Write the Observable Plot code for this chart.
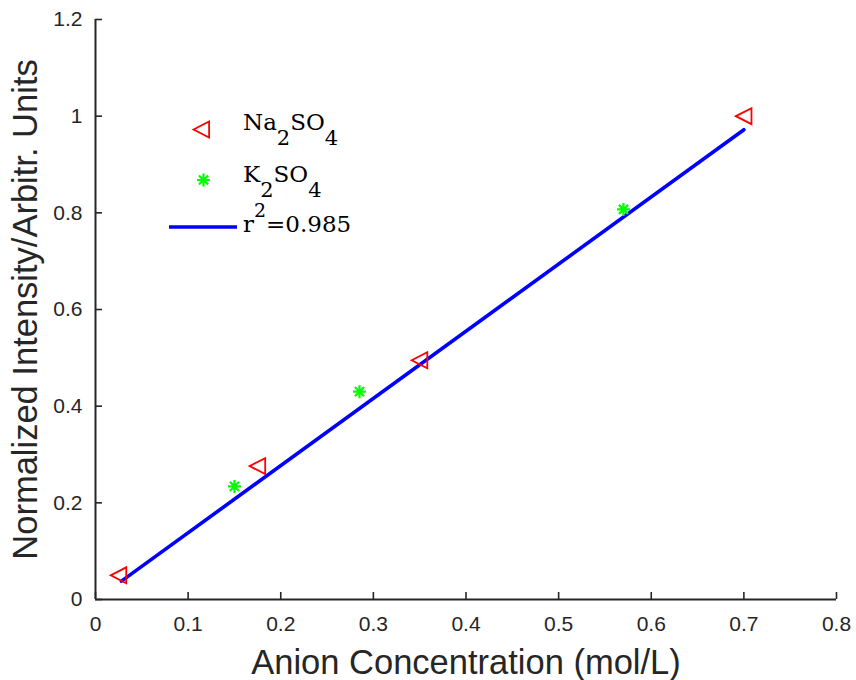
<!DOCTYPE html>
<html>
<head>
<meta charset="utf-8">
<script src="https://cdn.jsdelivr.net/npm/d3@7"></script>
<script src="https://cdn.jsdelivr.net/npm/@observablehq/plot@0.6"></script>
<style>
  html, body { margin: 0; padding: 0; background: #ffffff; }
  #chart { width: 856px; height: 680px; }
</style>
</head>
<body>
<div id="chart"></div>
<script>
// ---- data ----
const naX = [0.025, 0.175, 0.35, 0.70];
const naY = [0.050, 0.276, 0.495, 1.000];
const kX = [0.150, 0.285, 0.570];
const kY = [0.234, 0.430, 0.807];
const fitX = [0.028, 0.700];
const fitY = [0.038, 0.972];
const xTicks = [0, 0.1, 0.2, 0.3, 0.4, 0.5, 0.6, 0.7, 0.8];
const yTicks = [0, 0.2, 0.4, 0.6, 0.8, 1, 1.2];
const xTitle = "Anion Concentration (mol/L)";
const yTitle = "Normalized Intensity/Arbitr. Units";
const legendNames = ["Na2SO4", "K2SO4", "r2=0.985"];

const na = naX.map((x, i) => ({x, y: naY[i]}));
const k = kX.map((x, i) => ({x, y: kY[i]}));
const fit = fitX.map((x, i) => ({x, y: fitY[i]}));

// custom MATLAB-like symbols
const triLeft = {
  draw(ctx, size) {
    const r = Math.sqrt(size / Math.PI);
    ctx.moveTo(-r, 0);
    ctx.lineTo(r * 0.95, -r);
    ctx.lineTo(r * 0.95, r);
    ctx.closePath();
  }
};
const asterisk8 = {
  draw(ctx, size) {
    const r = Math.sqrt(size / Math.PI);
    const d = r * Math.SQRT1_2;
    ctx.moveTo(-r, 0); ctx.lineTo(r, 0);
    ctx.moveTo(0, -r); ctx.lineTo(0, r);
    ctx.moveTo(-d, -d); ctx.lineTo(d, d);
    ctx.moveTo(-d, d); ctx.lineTo(d, -d);
  }
};

const axisColor = "#262626";
const legendFont = "'DejaVu Serif', serif";

const chart = Plot.plot({
  width: 856,
  height: 680,
  marginLeft: 95,
  marginRight: 20,
  marginTop: 19,
  marginBottom: 81,
  style: {fontFamily: "'Liberation Sans', Arial, sans-serif", color: axisColor, background: "#ffffff", overflow: "visible"},
  x: {domain: [0, 0.8]},
  y: {domain: [0, 1.2]},
  marks: [
    // inward tick marks (labels drawn separately below)
    Plot.axisX(xTicks, {tickSize: -7, tickFormat: () => "", label: null}),
    Plot.axisY(yTicks, {tickSize: -7, tickFormat: () => "", label: null}),
    // tick labels
    Plot.text(xTicks, {x: d => d, frameAnchor: "bottom", dy: 25, textAnchor: "middle", lineAnchor: "middle", text: d => String(d), fontSize: 21, fill: axisColor}),
    Plot.text(yTicks, {y: d => d, frameAnchor: "left", dx: -13, textAnchor: "end", lineAnchor: "middle", text: d => String(d), fontSize: 21, fill: axisColor}),
    Plot.ruleY([0], {stroke: axisColor, strokeWidth: 2}),
    Plot.ruleX([0], {stroke: axisColor, strokeWidth: 2}),
    Plot.line(fit, {x: "x", y: "y", stroke: "#0000ff", strokeWidth: 3.6}),
    Plot.dot(na, {x: "x", y: "y", symbol: triLeft, r: 8, stroke: "#ff0000", strokeWidth: 1.8, fill: "none"}),
    Plot.dot(k, {x: "x", y: "y", symbol: asterisk8, r: 6.5, stroke: "#00ff00", strokeWidth: 2.2, fill: "none"}),
    // axis titles
    Plot.text([xTitle], {frameAnchor: "bottom", dy: 63, textAnchor: "middle", lineAnchor: "middle", fontSize: 34.5, fill: axisColor}),
    Plot.text([yTitle], {frameAnchor: "left", dx: -70, rotate: -90, textAnchor: "middle", lineAnchor: "middle", fontSize: 34.5, fill: axisColor}),
    // legend
    Plot.dot([legendNames[0]], {frameAnchor: "top-left", dx: 106, dy: 110, symbol: triLeft, r: 8, stroke: "#ff0000", strokeWidth: 1.8, fill: "none"}),
    Plot.dot([legendNames[1]], {frameAnchor: "top-left", dx: 108, dy: 160.5, symbol: asterisk8, r: 6.5, stroke: "#00ff00", strokeWidth: 2.2, fill: "none"}),
    Plot.text(legendNames, {frameAnchor: "top-left", textAnchor: "start", text: d => d, fontSize: 23, fontFamily: legendFont, fill: "#000000"})
  ]
});

document.getElementById("chart").appendChild(chart);

const svg = d3.select(chart);
// tick mark weight
svg.selectAll("g[aria-label='x-axis tick'], g[aria-label='y-axis tick']").attr("stroke-width", 1.6).attr("stroke", axisColor);
// remove empty axis label texts
svg.selectAll("text").filter(function() { return this.textContent === ""; }).remove();

// place legend texts with sub/superscripts and draw the legend line
const baselines = [130, 182, 232];
svg.selectAll("text").each(function() {
  const t = this.textContent;
  const idx = legendNames.indexOf(t);
  if (idx < 0) return;
  const el = d3.select(this);
  d3.select(this.parentNode).attr("transform", null);
  el.attr("transform", null).attr("x", 243).attr("y", baselines[idx]).attr("dy", null).text(null);
  const parts = idx === 0 ? [["Na", 0, 23], ["2", 15, 21], ["SO", -15, 23], ["4", 15, 21]]
    : idx === 1 ? [["K", 0, 23], ["2", 15, 21], ["SO", -15, 23], ["4", 15, 21]]
    : [["r", 0, 23], ["2", -15, 19], ["=0.985", 15, 23]];
  parts.forEach(([s, dy, fs]) => el.append("tspan").attr("dy", dy).style("font-size", fs + "px").text(s));
});
svg.append("line")
  .attr("x1", 169).attr("x2", 237).attr("y1", 227).attr("y2", 227)
  .attr("stroke", "#0000ff").attr("stroke-width", 3.6);
</script>
</body>
</html>
